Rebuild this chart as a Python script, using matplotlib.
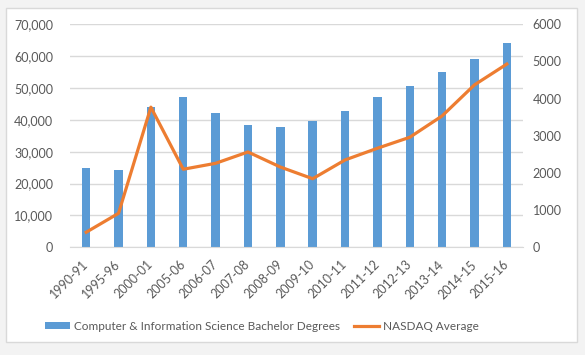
import matplotlib
matplotlib.use("Agg")
import matplotlib.pyplot as plt
from matplotlib.patches import Rectangle
import numpy as np

categories = ["1990-91", "1995-96", "2000-01", "2005-06", "2006-07", "2007-08", "2008-09",
              "2009-10", "2010-11", "2011-12", "2012-13", "2013-14", "2014-15", "2015-16"]
degrees = [24990, 24300, 44000, 47300, 42100, 38300, 37700,
           39600, 42800, 47300, 50500, 55100, 59100, 64000]
nasdaq = [405, 915, 3770, 2100, 2260, 2565, 2160,
          1845, 2350, 2665, 2960, 3535, 4370, 4930]

plt.rcParams['font.family'] = ['Lato', 'DejaVu Sans']
txt = '#595959'
W, H = 585, 355
fig = plt.figure(figsize=(W/100, H/100), dpi=100)
fig.patch.set_facecolor('#f3f3f3')
fig.patches.append(Rectangle((6/W, 1-342/H), (577-6)/W, (342-8)/H, transform=fig.transFigure,
                             facecolor='white', edgecolor='#d9d9d9', linewidth=1.0, zorder=-5))

L, R, T, B = 70, 523, 24.3, 247.3
ax = fig.add_axes([L/W, 1-B/H, (R-L)/W, (B-T)/H])
ax.set_facecolor('none')
x = np.arange(len(categories))
ax.bar(x, degrees, width=0.26, color='#5B9BD5', zorder=2,
       label='Computer & Information Science Bachelor Degrees')
ax.set_ylim(0, 70000)
ax.set_xlim(-0.5, len(categories)-0.5)
ax.set_yticks(range(0, 70001, 10000))
ax.set_yticklabels([f"{v:,}" for v in range(0, 70001, 10000)])
ax.yaxis.grid(True, color='#d9d9d9', linewidth=1.0, zorder=0)
ax.set_axisbelow(True)
for s in ['top', 'right', 'left']:
    ax.spines[s].set_visible(False)
ax.spines['bottom'].set_color('#d9d9d9')
ax.set_xticks(x)
ax.set_xticklabels(categories, rotation=45, ha='right', va='center', rotation_mode='anchor')
ax.tick_params(axis='both', length=0, colors=txt, labelsize=9)
ax.tick_params(axis='y', pad=12)
ax.tick_params(axis='x', pad=11)

ax2 = ax.twinx()
ax2.plot(x, nasdaq, color='#ED7D31', linewidth=2.3, zorder=3, label='NASDAQ Average',
         solid_joinstyle='round')
ax2.set_ylim(0, 6000)
ax2.set_yticks(range(0, 6001, 1000))
for s in ['top', 'right', 'left', 'bottom']:
    ax2.spines[s].set_visible(False)
ax2.tick_params(axis='y', length=0, colors=txt, labelsize=9, pad=7)

h1, l1 = ax.get_legend_handles_labels()
h2, l2 = ax2.get_legend_handles_labels()
fig.legend(h1 + h2, l1 + l2, loc='center', bbox_to_anchor=(262/W, 1-326/H), ncol=2,
           frameon=False, fontsize=8.5, labelcolor=txt, handlelength=2.1, handleheight=0.5,
           columnspacing=1.2, handletextpad=0.35)

fig.savefig('out.png', dpi=100, facecolor=fig.get_facecolor())
